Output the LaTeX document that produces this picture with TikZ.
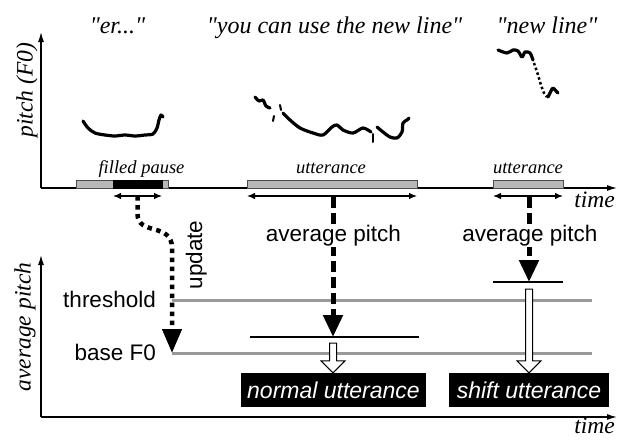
\documentclass[tikz,border=0pt]{standalone}
\usepackage{fontspec}
\setmainfont{Liberation Serif}[Ligatures=TeXOff]
\setsansfont{Liberation Sans}
\usetikzlibrary{arrows.meta, calc, positioning}

\tikzset{
  quote/.style={font=\fontsize{24}{26}\selectfont\itshape, inner sep=0pt, anchor=base},
  tag/.style={font=\fontsize{18.5}{20}\selectfont\itshape, inner sep=0pt, anchor=base},
  axlabel/.style={font=\fontsize{23.5}{25}\selectfont\itshape, inner sep=0pt},
  sanslabel/.style={font=\sffamily\fontsize{22.5}{24}\selectfont, inner sep=1pt},
  axis/.style={line width=1.2pt, -{Latex[length=10pt,width=6pt]}},
  span/.style={line width=1.2pt, {Latex[length=8pt,width=6.5pt]}-{Latex[length=8pt,width=6.5pt]}},
  bar/.style={draw=black!70, line width=0.8pt, fill=black!28, minimum height=8pt, inner sep=0pt},
  contour/.style={line width=3.2pt, line cap=round, line join=round},
  dasharrow/.style={line width=5pt, dash pattern=on 11pt off 5pt, -{Triangle[length=22pt,width=19pt]}},
  dotarrow/.style={line width=4.5pt, dash pattern=on 4.5pt off 4.5pt, -{Triangle[length=24pt,width=19pt]}},
  level/.style={line width=3pt, black!40},
  mean/.style={line width=1.8pt},
  result/.style={fill=black, text=white, font=\sffamily\itshape\fontsize{23}{25}\selectfont, minimum height=34pt, inner sep=0pt},
  hollow/.style={line width=1pt, fill=white, to path={let \p1=(\tikztostart), \p2=(\tikztotarget) in
    (\x1-3.5pt,\y1) -- (\x1-3.5pt,\y2+12pt) -- (\x1-12pt,\y2+12pt) -- (\x1,\y2) -- (\x1+12pt,\y2+12pt) -- (\x1+3.5pt,\y2+12pt) -- (\x1+3.5pt,\y1) -- cycle}},
}

\begin{document}
\begin{tikzpicture}[x=1pt, y=-1pt]
\useasboundingbox (0,0) rectangle (618,439);

\coordinate (o1) at (41,188);
\coordinate (y1top) at (41,32);
\coordinate (x1end) at (617,188);
\draw[axis] (o1) -- (y1top);
\draw[axis] (o1) -- (x1end);
\node[axlabel, rotate=90] (pitchlbl) at (27,90) {pitch (F0)};
\node[axlabel, anchor=base east] (time1) at (615,207) {time};

\node[quote] (er) at (117.5,33) {"er..."};
\node[quote] (sent) at (334.5,33) {"you can use the new line"};
\node[quote] (nl) at (547,33) {"new line"};

\draw[contour] plot[smooth] coordinates {(83,121) (88,128) (95,133) (105,135) (115,136) (125,135) (135,136) (145,135) (153,134) (157,128) (159,120) (161,115) (163,117)};
\draw[contour] plot[smooth] coordinates {(255,97) (259,101) (263,100) (266,106) (270,108)};
\draw[contour, line width=2pt] (280,105) -- (281,110) (274,116) -- (273,121);
\draw[contour] plot[smooth] coordinates {(283,113) (290,120) (300,128) (313,133) (323,135) (332,127) (337,125) (343,130) (353,133) (363,128) (371,132)};
\draw[contour, line width=2pt] (373,134) -- (373,142);
\draw[contour] plot[smooth] coordinates {(377,127) (383,132) (390,137) (397,138) (402,132) (403,123) (407,120) (409,118)};
\draw[contour] plot[smooth] coordinates {(498,50) (507,53) (513,50) (518,51) (522,57) (525,52) (530,53) (533,60)};
\draw[line width=2.5pt, dash pattern=on 2.5pt off 2.5pt] plot[smooth] coordinates {(534,63) (538,75) (541,85) (544,93) (547,97)};
\draw[contour] plot[smooth] coordinates {(548,97) (551,91) (553,88) (556,91) (558,93)};

\node[bar, minimum width=92pt] (fpbar) at (122,184) {};
\node[bar, fill=black, draw=black, minimum width=49pt] (fpcore) at (137.5,184) {};
\node[bar, minimum width=170pt] (ut1bar) at (332,184) {};
\node[bar, minimum width=70pt] (ut2bar) at (528,184) {};
\node[tag] (fplbl) at (141.5,173) {filled pause};
\node[tag] (ut1lbl) at (331,173) {utterance};
\node[tag] (ut2lbl) at (528,173) {utterance};

\coordinate (fpL) at (113,196);
\coordinate (fpR) at (162,196);
\coordinate (u1L) at (247,196);
\coordinate (u1R) at (417,196);
\coordinate (u2L) at (493,196);
\coordinate (u2R) at (563,196);
\draw[span] (fpL) -- (fpR);
\draw[span] (u1L) -- (u1R);
\draw[span] (u2L) -- (u2R);

\coordinate (o2) at (41,417);
\coordinate (y2top) at (41,255);
\coordinate (x2end) at (617,417);
\draw[axis] (o2) -- (y2top);
\draw[axis] (o2) -- (x2end);
\node[axlabel, rotate=90] (avglbl) at (25,327) {average pitch};
\node[axlabel, anchor=base east] (time2) at (615,433) {time};

\coordinate (thrL) at (172,300);
\coordinate (thrR) at (592,300);
\coordinate (baseL) at (172,353);
\coordinate (baseR) at (592,353);
\draw[level] (thrL) -- (thrR);
\draw[level] (baseL) -- (baseR);
\node[sanslabel, anchor=base east] (thrlbl) at (157,307) {threshold};
\node[sanslabel, anchor=base east] (baselbl) at (157,360) {base F0};

\coordinate (m1L) at (250,337);
\coordinate (m1R) at (419,337);
\coordinate (m2L) at (493,282);
\coordinate (m2R) at (563,282);
\draw[mean] (m1L) -- (m1R);
\draw[mean] (m2L) -- (m2R);

\coordinate (fpmid) at ($(fpL)!0.5!(fpR)$);
\coordinate (u1mid) at (333,197);
\coordinate (u2mid) at (529,197);
\coordinate (avg1) at (333,337);
\coordinate (avg2) at (529,282);
\draw[dotarrow] (fpmid) -- (137.5,214) .. controls (137.5,236) and (172,222) .. (172,248) -- (baseL);
\draw[dasharrow] (u1mid) -- (avg1);
\draw[dasharrow] (u2mid) -- (avg2);
\node[sanslabel, rotate=90, anchor=base] (upd) at (202,255) {update};
\node[sanslabel, fill=white, anchor=base] (avgp1) at (333.5,241) {average pitch};
\node[sanslabel, fill=white, anchor=base] (avgp2) at (530,241) {average pitch};

\node[result, minimum width=185pt] (normal) at (333.5,390) {normal utterance};
\node[result, minimum width=160pt] (shift) at (529,390) {shift utterance};
\coordinate (h1) at (333,343);
\coordinate (h2) at (529,289);
\draw[hollow] (h1) to (normal.north);
\draw[hollow] (h2) to (shift.north);
\end{tikzpicture}
\end{document}
